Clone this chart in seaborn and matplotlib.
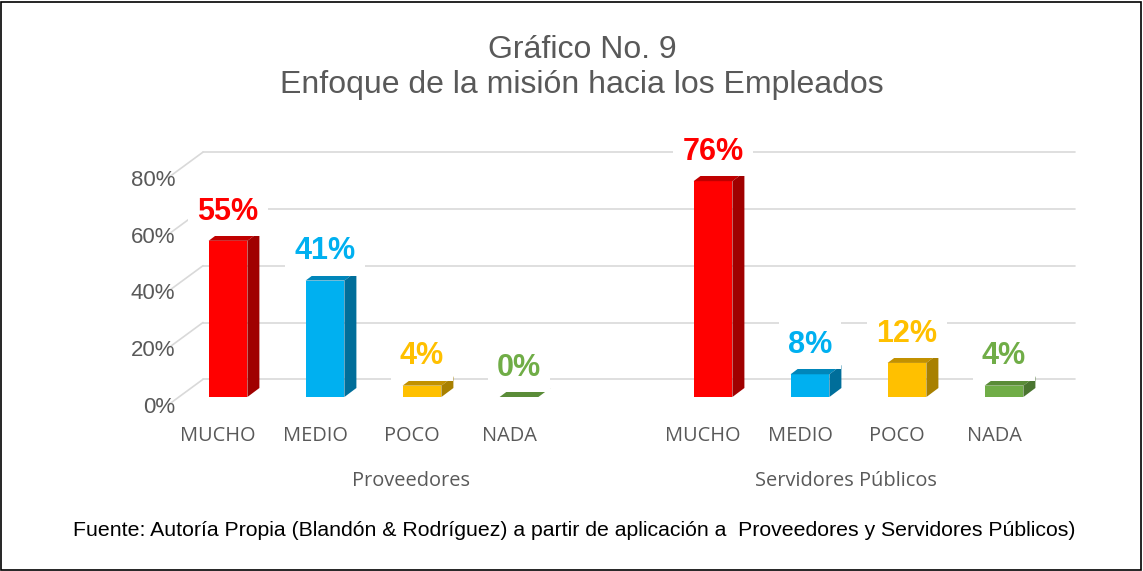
import numpy as np
import pandas as pd
import seaborn as sns
import matplotlib.pyplot as plt
from matplotlib.patches import Polygon, Rectangle

# datos del grafico
grupos = ['Proveedores', 'Servidores Públicos']
niveles = ['MUCHO', 'MEDIO', 'POCO', 'NADA']
proveedores = [55, 41, 4, 0]
servidores = [76, 8, 12, 4]
yticks = [0, 20, 40, 60, 80]

colores = {'MUCHO': '#FF0000', 'MEDIO': '#00B0F0', 'POCO': '#FFC000', 'NADA': '#70AD47'}
tapa = {'MUCHO': '#C00000', 'MEDIO': '#0086BA', 'POCO': '#C29100', 'NADA': '#5A8C38'}
lado = {'MUCHO': '#A00000', 'MEDIO': '#006E9A', 'POCO': '#A88000', 'NADA': '#4A7530'}
gris = '#595959'

sns.set_theme(style='white')
plt.rcParams['font.family'] = ['Liberation Sans', 'DejaVu Sans']

# posicion de cada barra: hueco entre los dos grupos
pos = [0, 1, 2, 3, 5, 6, 7, 8]
df = pd.DataFrame({
    'pos': pos,
    'nivel': niveles * 2,
    'valor': proveedores + servidores,
})

W, H = 1143, 571
fig = plt.figure(figsize=(W / 100, H / 100), dpi=100)

# ejes en pixeles: 97 px por categoria, 2.84 px por punto porcentual
px_x, px_y = 97.0, 2.84
x0_px, y0_px = 228, 397
ax_l, ax_r, ax_t, ax_b = 150, 1085, 130, 450
ax = fig.add_axes([ax_l / W, (H - ax_b) / H, (ax_r - ax_l) / W, (ax_b - ax_t) / H])

sns.barplot(data=df, x='pos', y='valor', hue='nivel', palette=colores, native_scale=True,
            dodge=False, width=0.4, errorbar=None, legend=False, linewidth=0, saturation=1,
            ax=ax, zorder=3)

ax.set_xlim(-(x0_px - ax_l) / px_x, (ax_r - x0_px) / px_x)
ax.set_ylim(-(ax_b - y0_px) / px_y, (y0_px - ax_t) / px_y)
ax.axis('off')

# perspectiva: plano trasero y plano delantero
back_dy = 17.7 / px_y
front_dy = -8 / px_y
gx0, gx1 = (203 - x0_px) / px_x, (1075 - x0_px) / px_x
fx = (168 - x0_px) / px_x
for v in yticks:
    ax.plot([gx0, gx1], [v + back_dy, v + back_dy], color='#D9D9D9', lw=1.2, zorder=1)
    ax.plot([fx, gx0], [v + front_dy, v + back_dy], color='#D9D9D9', lw=1.2, zorder=1)
    ax.text((175 - x0_px) / px_x, v - 10.5 / px_y, f'{v}%', ha='right', va='center',
            fontsize=16, color=gris)

# caras laterales y superiores de las barras (ordenadas por posicion)
barras = sorted(ax.patches, key=lambda b: b.get_x())
dx, dy = 12 / px_x, 9 / px_y
for bar, (_, fila) in zip(barras, df.sort_values('pos').iterrows()):
    x = bar.get_x()
    w = bar.get_width()
    h = bar.get_height()
    n = fila['nivel']
    ax.add_patch(Polygon([(x, h), (x + w, h), (x + w + dx, h + dy), (x + dx, h + dy)],
                         closed=True, facecolor=tapa[n], edgecolor='none', zorder=3))
    if h > 0:
        ax.add_patch(Polygon([(x + w, 0), (x + w, h), (x + w + dx, h + dy), (x + w + dx, dy)],
                             closed=True, facecolor=lado[n], edgecolor='none', zorder=3))
    ax.annotate(f'{fila["valor"]}%', (x + w / 2, h), xytext=(0, 21), textcoords='offset points',
                ha='center', va='center', fontsize=22, fontweight='bold', color=colores[n],
                bbox=dict(boxstyle='square,pad=0.3', fc='white', ec='none'), zorder=5)

# etiquetas de categoria
for p, n in zip(pos, niveles * 2):
    ax.text(p - 10 / px_x, -(436 - y0_px) / px_y, n, ha='center', va='center',
            fontsize=14.4, color=gris, family=['Open Sans', 'DejaVu Sans'])

fig.text(411 / W, 1 - 481 / H, grupos[0], ha='center', va='center', fontsize=14.4,
         color=gris, family=['Open Sans', 'DejaVu Sans'])
fig.text(846 / W, 1 - 481 / H, grupos[1], ha='center', va='center', fontsize=14.4,
         color=gris, family=['Open Sans', 'DejaVu Sans'])

fig.text(582 / W, 1 - 57.5 / H, 'Gráfico No. 9', ha='center', va='baseline', fontsize=23, color=gris)
fig.text(582 / W, 1 - 92.5 / H, 'Enfoque de la misión hacia los Empleados', ha='center',
         va='baseline', fontsize=23, color=gris)

fig.text(574 / W, 1 - 531 / H,
         'Fuente: Autoría Propia (Blandón & Rodríguez) a partir de aplicación a  Proveedores y Servidores Públicos)',
         ha='center', va='center', fontsize=15.3, color='black')

fig.patches.append(Rectangle((1 / W, 1 / H), 1 - 3 / W, 1 - 3 / H, transform=fig.transFigure,
                             fill=False, edgecolor='black', lw=1.2))

fig.savefig('out.png', dpi=100)
